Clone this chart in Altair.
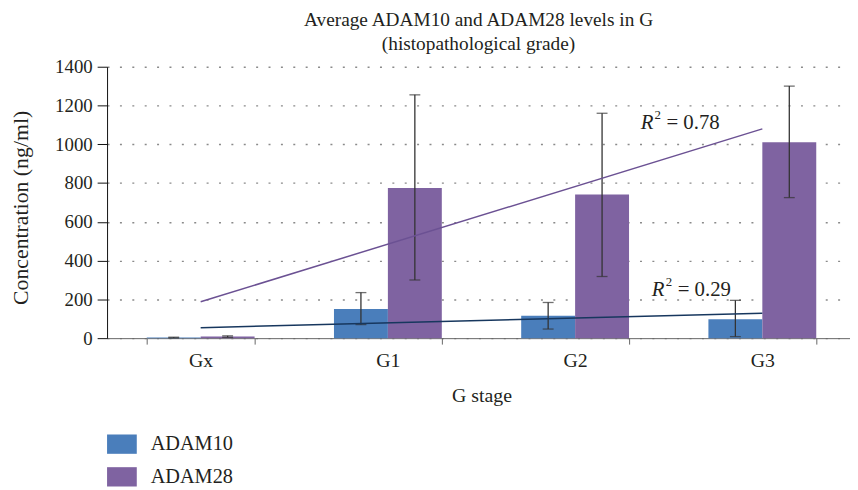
import altair as alt
import pandas as pd

categories = ["Gx", "G1", "G2", "G3"]
series = ["ADAM10", "ADAM28"]
adam10_mean = [3, 150, 115, 98]
adam10_low = [1, 70, 47, 8]
adam10_high = [5, 235, 184, 195]
adam28_mean = [8, 775, 741, 1010]
adam28_low = [4, 300, 318, 725]
adam28_high = [12, 1255, 1160, 1300]
r2_labels = ["0.78", "0.29"]

rows = []
for i, c in enumerate(categories):
    rows.append(dict(cat=c, idx=i + 1, series="ADAM10", value=adam10_mean[i],
                     lo=adam10_low[i], hi=adam10_high[i]))
    rows.append(dict(cat=c, idx=i + 1, series="ADAM28", value=adam28_mean[i],
                     lo=adam28_low[i], hi=adam28_high[i]))
df = pd.DataFrame(rows)

FONT = "Liberation Serif"
TXT = "#231f20"
bar_colors = ["#4a7ebb", "#7f63a1"]
line_colors = ["#17375e", "#6b5193"]
YTITLE = "Concentration (ng/ml)"
XRANGE = [0, 756]

yaxis = alt.Axis(values=list(range(0, 1401, 200)), format="d", tickSize=10,
                 domainColor="#111", tickColor="#111",
                 grid=True, gridDash=[2, 10.5], gridColor="#8a8a8a", gridWidth=1.4,
                 labelPadding=5, titlePadding=22, titleY=142,
                 labelFontSize=19, titleFontSize=22)
yscale = alt.Scale(domain=[0, 1400])

def Y(field):
    return alt.Y(field, title=YTITLE, scale=yscale, axis=yaxis)

xband = alt.X("cat:N", sort=categories, title="G stage",
              scale=alt.Scale(paddingInner=0.424, paddingOuter=0.212, range=XRANGE),
              axis=alt.Axis(labelAngle=0, tickBand="extent", tickSize=6,
                            domainColor="#666", tickColor="#666",
                            labelPadding=7, titlePadding=15,
                            labelFontSize=20, titleFontSize=20))

base = alt.Chart(df)
xoff = alt.XOffset("series:N", sort=series)

bars = base.mark_bar().encode(
    x=xband,
    xOffset=xoff,
    y=Y("value:Q"),
    color=alt.Color("series:N", sort=series, title=None,
                    scale=alt.Scale(domain=series, range=bar_colors),
                    legend=alt.Legend(orient="none", legendX=0, legendY=366,
                                      symbolType="M-1,-0.65H1V0.65H-1Z",
                                      symbolSize=900, symbolStrokeWidth=0,
                                      labelFontSize=20.5, labelOffset=14,
                                      rowPadding=7, padding=0)),
)

err = base.mark_rule(color="#333", strokeWidth=1.3).encode(
    x=xband, xOffset=xoff,
    y=Y("lo:Q"), y2="hi:Q",
)
cap_lo = base.mark_tick(color="#333", thickness=1.3, size=11).encode(
    x=xband, xOffset=xoff, y=Y("lo:Q"),
)
cap_hi = base.mark_tick(color="#333", thickness=1.3, size=11).encode(
    x=xband, xOffset=xoff, y=Y("hi:Q"),
)

band_layer = alt.layer(bars, err, cap_lo, cap_hi)

xq_scale = alt.Scale(domain=[0.5, 4.5], range=XRANGE)
trend = base.transform_regression(
    "idx", "value", groupby=["series"], method="linear"
).mark_line(strokeWidth=1.5).encode(
    x=alt.X("idx:Q", scale=xq_scale, axis=None),
    y=Y("value:Q"),
    color=alt.Color("series:N", sort=series,
                    scale=alt.Scale(domain=series, range=line_colors), legend=None),
)

ann = pd.DataFrame({"lab": r2_labels, "ax": [3.35, 3.41], "ay": [1109, 250]})
annb = alt.Chart(ann).transform_calculate(eq="'= ' + datum.lab")
ax_enc = alt.X("ax:Q", scale=xq_scale, axis=None)
ay_enc = Y("ay:Q")
r_txt = annb.mark_text(text="R", fontStyle="italic", font=FONT, fontSize=21,
                       align="left", baseline="middle", color=TXT).encode(
    x=ax_enc, y=ay_enc)
r_sup = annb.mark_text(text="2", font=FONT, fontSize=13, align="left", baseline="middle",
                       dx=14, dy=-8, color=TXT).encode(x=ax_enc, y=ay_enc)
r_eq = annb.mark_text(font=FONT, fontSize=21, align="left", baseline="middle",
                      dx=26, color=TXT).encode(x=ax_enc, y=ay_enc, text=alt.Text("eq:N"))

quant_layer = alt.layer(trend, r_txt, r_sup, r_eq)

chart = alt.layer(band_layer, quant_layer).resolve_scale(
    x="independent", color="independent"
).properties(
    width=750, height=274,
    title=alt.TitleParams(["Average ADAM10 and ADAM28 levels in G",
                           "(histopathological grade)"],
                          font=FONT, fontSize=19.5, fontWeight="normal",
                          color=TXT, anchor="middle", offset=3, lineHeight=25),
    autosize=alt.AutoSizeParams(type="none"),
    padding={"left": 100, "top": 57, "right": 0, "bottom": 152},
).configure_view(stroke=None).configure_axis(
    labelFont=FONT, titleFont=FONT, labelColor=TXT, titleColor=TXT,
    titleFontWeight="normal", grid=False,
).configure_legend(
    labelFont=FONT, labelColor=TXT
)

chart.save("out.html", embed_options={"renderer": "svg", "actions": False})
